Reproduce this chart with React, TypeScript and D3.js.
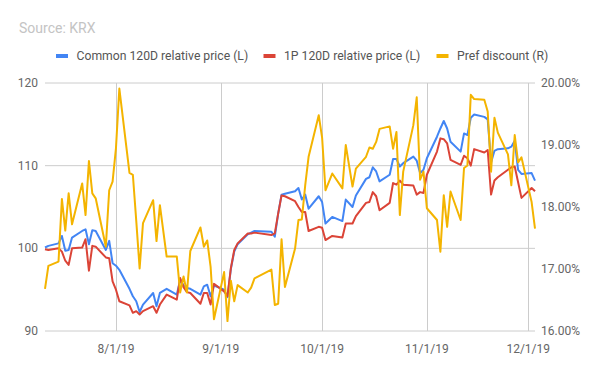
import React from "react";
import * as d3 from "d3";

const dates: string[] = [
  "2019-07-11","2019-07-12","2019-07-15","2019-07-16","2019-07-17","2019-07-18","2019-07-19",
  "2019-07-22","2019-07-23","2019-07-24","2019-07-25","2019-07-26","2019-07-29","2019-07-30","2019-07-31",
  "2019-08-01","2019-08-02","2019-08-05","2019-08-06","2019-08-07","2019-08-08","2019-08-09",
  "2019-08-12","2019-08-13","2019-08-14","2019-08-16","2019-08-19","2019-08-20","2019-08-21",
  "2019-08-22","2019-08-23","2019-08-26","2019-08-27","2019-08-28","2019-08-29","2019-08-30",
  "2019-09-02","2019-09-03","2019-09-04","2019-09-05","2019-09-06","2019-09-09","2019-09-10",
  "2019-09-11","2019-09-16","2019-09-17","2019-09-18","2019-09-19","2019-09-20","2019-09-23",
  "2019-09-24","2019-09-25","2019-09-26","2019-09-27","2019-09-30",
  "2019-10-01","2019-10-02","2019-10-04","2019-10-07","2019-10-08","2019-10-10","2019-10-11",
  "2019-10-14","2019-10-15","2019-10-16","2019-10-17","2019-10-18","2019-10-21","2019-10-22",
  "2019-10-23","2019-10-24","2019-10-25","2019-10-28","2019-10-29","2019-10-30","2019-10-31",
  "2019-11-01","2019-11-04","2019-11-05","2019-11-06","2019-11-07","2019-11-08","2019-11-11",
  "2019-11-12","2019-11-13","2019-11-14","2019-11-15","2019-11-18","2019-11-19","2019-11-20",
  "2019-11-21","2019-11-22","2019-11-25","2019-11-26","2019-11-27","2019-11-28","2019-11-29",
  "2019-12-02","2019-12-03",
];

const commonRel: number[] = [
  100.1,100.3,100.6,101.5,99.7,99.8,101.3,
  102.1,102.3,100.5,102.2,102.1,99.8,100.9,98.2,
  97.9,97.4,95.1,94.2,93.6,92.3,93.2,
  94.6,93.0,94.6,95.1,94.4,96.2,95.5,
  95.2,95.1,94.4,95.4,95.6,94.2,95.5,
  95.0,94.1,97.5,99.6,100.5,101.7,101.9,
  102.1,102.0,101.4,104.2,106.5,106.6,106.9,
  107.3,105.9,106.5,104.8,106.3,
  105.6,103.0,103.8,103.3,105.9,105.0,106.4,
  108.4,108.6,109.8,109.3,108.1,108.9,110.8,
  110.8,109.9,110.3,111.1,110.6,109.1,109.5,
  110.9,113.5,114.5,115.4,114.5,112.9,111.7,
  113.9,113.7,115.8,116.2,115.9,115.6,110.4,
  111.8,112.0,112.1,112.3,113.0,109.5,109.0,
  109.1,108.2,
];

const prefRel: number[] = [
  99.9,99.8,100.0,99.6,98.5,98.0,100.0,
  100.1,101.1,97.3,100.3,100.2,98.9,98.8,96.0,
  95.0,93.6,93.1,92.2,92.4,92.0,92.4,
  93.0,92.2,93.2,94.4,93.8,96.4,95.3,
  94.7,94.6,93.3,94.6,94.6,93.2,95.7,
  94.8,94.2,97.6,99.8,100.6,101.8,101.8,
  101.9,101.6,101.8,104.2,106.4,106.3,105.7,
  105.0,104.4,104.4,102.1,102.6,
  102.5,101.0,101.5,101.3,103.0,103.0,103.9,
  105.5,105.6,106.8,106.3,104.6,105.5,107.9,
  107.7,108.2,107.7,107.6,106.5,106.8,106.7,
  108.9,111.7,113.3,113.2,112.7,110.7,110.1,
  111.2,110.9,110.0,112.0,111.6,111.9,106.5,
  108.2,108.6,109.5,109.8,109.9,108.0,106.1,
  107.3,106.9,
];

const prefDiscount: number[] = [
  16.68,17.05,17.12,18.13,17.62,18.22,17.72,
  18.38,17.87,18.74,18.22,18.14,17.36,18.27,18.41,
  18.95,19.91,18.55,18.52,17.78,17.01,17.74,
  18.11,17.45,18.03,17.20,17.20,16.62,16.88,
  16.62,17.29,17.67,17.36,17.46,17.04,16.19,
  16.95,16.16,16.81,16.48,16.74,16.62,16.70,
  16.85,16.99,16.42,16.44,17.48,16.71,17.33,
  17.79,17.80,18.35,18.81,19.48,
  19.12,18.27,18.54,18.30,19.00,18.33,18.62,
  18.81,18.96,18.94,19.05,19.26,19.30,18.94,
  19.21,17.87,18.57,19.32,19.77,18.44,18.57,
  17.98,17.79,17.28,18.19,17.68,18.25,17.79,
  18.63,18.67,19.81,19.74,19.73,19.54,18.57,
  19.44,19.20,18.85,18.35,19.16,18.72,18.80,
  18.08,17.65,
];

const leftTicks: number[] = [90, 100, 110, 120];
const rightTicks: number[] = [16, 17, 18, 19, 20];
const monthTicks: string[] = ["2019-08-01", "2019-09-01", "2019-10-01", "2019-11-01", "2019-12-01"];
const seriesNames: string[] = ["Common 120D relative price (L)", "1P 120D relative price (L)", "Pref discount (R)"];
const seriesColors: string[] = ["#4285f4", "#db4437", "#f4b400"];

const W = 600;
const H = 371;
const FONT = "Roboto, Arial, sans-serif";

export default function App() {
  const parse = d3.timeParse("%Y-%m-%d");
  const fmt = d3.timeFormat("%-m/%-d/%y");
  const ds = dates.map((d) => parse(d) as Date);

  const x = d3.scaleTime().domain([ds[0], ds[ds.length - 1]]).range([45, 535]);
  const yL = d3.scaleLinear().domain([90, 120]).range([331, 83]);
  const yR = d3.scaleLinear().domain([16, 20]).range([331, 83]);

  const mk = (vals: number[], y: d3.ScaleLinear<number, number>) =>
    d3
      .line<number>()
      .x((_, i) => x(ds[i]))
      .y((v) => y(v))(vals) || "";

  const paths = [mk(commonRel, yL), mk(prefRel, yL), mk(prefDiscount, yR)];

  const legendX = [56, 263.5, 436.5];

  return (
    <svg
      width={W}
      height={H}
      style={{ position: "absolute", left: 0, top: 0, background: "#fff" }}
      fontFamily={FONT}
    >
      <rect width={W} height={H} fill="#fff" />
      <text x={19} y={33} fontSize={14} fill="#c4c4c4">Source: KRX</text>

      {seriesNames.map((n, i) => (
        <g key={n}>
          <rect x={legendX[i]} y={54} width={12} height={4} fill={seriesColors[i]} />
          <text x={legendX[i] + 20.5} y={60} fontSize={12.2} fill="#555">{n}</text>
        </g>
      ))}

      {leftTicks.map((t) => (
        <g key={"l" + t}>
          <line x1={45} x2={535} y1={yL(t)} y2={yL(t)} stroke="#cccccc" strokeWidth={1} />
          <text x={38} y={yL(t) + 4} fontSize={12} fill="#666" textAnchor="end">{t}</text>
        </g>
      ))}
      {monthTicks.map((m) => {
        const d = parse(m) as Date;
        const xx = Math.round(x(d)) + 0.5;
        return (
          <g key={m}>
            <line x1={xx} x2={xx} y1={83} y2={331} stroke="#cccccc" strokeWidth={1} />
            <text x={x(d)} y={353} fontSize={12} fill="#666" textAnchor="middle">{fmt(d)}</text>
          </g>
        );
      })}
      {rightTicks.map((t) => (
        <text key={"r" + t} x={541} y={yR(t) + 4} fontSize={12} fill="#666">
          {t.toFixed(2) + "%"}
        </text>
      ))}

      {paths.map((p, i) => (
        <path key={i} d={p} fill="none" stroke={seriesColors[i]} strokeWidth={2} strokeLinejoin="round" />
      ))}
    </svg>
  );
}
